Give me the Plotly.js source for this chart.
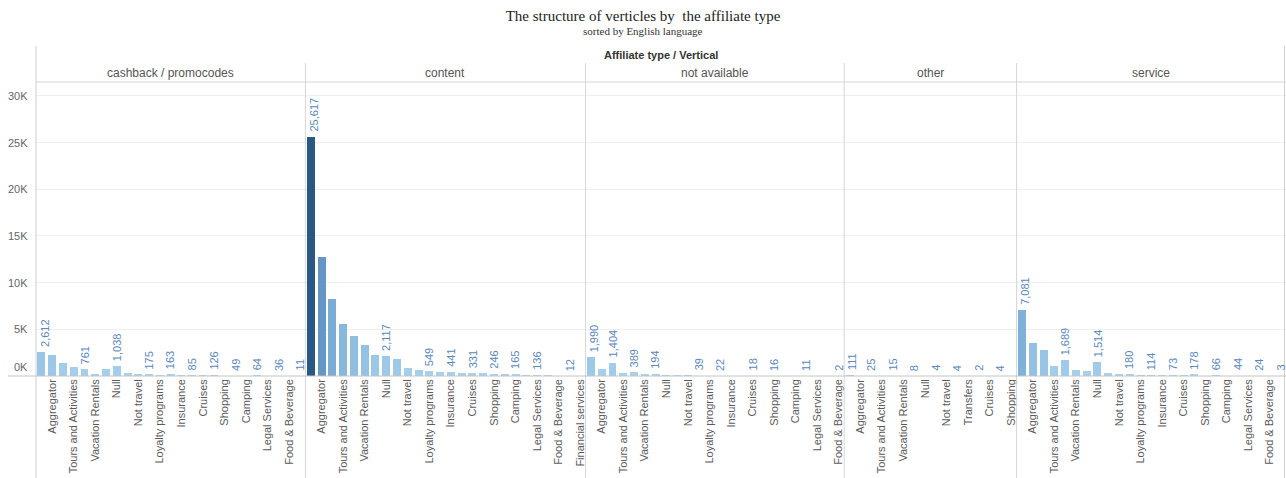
<!DOCTYPE html>
<html>
<head>
<meta charset="utf-8">
<script src="https://cdn.plot.ly/plotly-3.0.1.min.js"></script>
<style>
  html, body { margin: 0; padding: 0; background: #fff; }
  #chart { width: 1286px; height: 478px; }
</style>
</head>
<body>
<div id="chart"></div>
<script>
// ---- data -------------------------------------------------------------
const affiliateTypes = ['cashback / promocodes', 'content', 'not available', 'other', 'service'];

// Vertical names under each pane ('' = header suppressed for that bar)
const cashbackVerticals = ['', 'Aggregator', '', 'Tours and Activities', '', 'Vacation Rentals', '', 'Null', '', 'Not travel', '', 'Loyalty programs', '', 'Insurance', '', 'Cruises', '', 'Shopping', '', 'Camping', '', 'Legal Services', '', 'Food & Beverage', ''];
const contentVerticals = ['', 'Aggregator', '', 'Tours and Activities', '', 'Vacation Rentals', '', 'Null', '', 'Not travel', '', 'Loyalty programs', '', 'Insurance', '', 'Cruises', '', 'Shopping', '', 'Camping', '', 'Legal Services', '', 'Food & Beverage', '', 'Financial services'];
const notAvailableVerticals = ['', 'Aggregator', '', 'Tours and Activities', '', 'Vacation Rentals', '', 'Null', '', 'Not travel', '', 'Loyalty programs', '', 'Insurance', '', 'Cruises', '', 'Shopping', '', 'Camping', '', 'Legal Services', '', 'Food & Beverage'];
const otherVerticals = ['', 'Aggregator', '', 'Tours and Activities', '', 'Vacation Rentals', '', 'Null', '', 'Not travel', '', 'Transfers', '', 'Cruises', '', 'Shopping'];
const serviceVerticals = ['', 'Aggregator', '', 'Tours and Activities', '', 'Vacation Rentals', '', 'Null', '', 'Not travel', '', 'Loyalty programs', '', 'Insurance', '', 'Cruises', '', 'Shopping', '', 'Camping', '', 'Legal Services', '', 'Food & Beverage', ''];

// Number of affiliates per vertical
const cashbackCounts = [2612, 2290, 1390, 930, 761, 250, 720, 1038, 330, 230, 175, 130, 163, 70, 85, 60, 126, 50, 49, 20, 64, 25, 36, 15, 11];
const contentCounts = [25617, 12780, 8210, 5600, 4250, 3360, 2210, 2117, 1820, 890, 680, 549, 470, 441, 350, 331, 290, 246, 200, 165, 150, 136, 70, 30, 12, 4];
const notAvailableCounts = [1990, 800, 1404, 280, 389, 180, 194, 150, 90, 60, 39, 15, 22, 10, 8, 18, 6, 16, 5, 3, 11, 4, 2, 2];
const otherCounts = [111, 30, 25, 12, 15, 9, 8, 5, 4, 3, 4, 3, 2, 1, 4, 1];
const serviceCounts = [7081, 3570, 2790, 1040, 1689, 680, 570, 1514, 350, 170, 180, 120, 114, 80, 73, 70, 178, 40, 66, 25, 44, 30, 24, 15, 3];

// Bars whose value label is printed
const cashbackLabelled = [0, 4, 7, 10, 12, 14, 16, 18, 20, 22, 24];
const contentLabelled = [0, 7, 11, 13, 15, 17, 19, 21, 24];
const notAvailableLabelled = [0, 2, 4, 6, 10, 12, 15, 17, 20, 23];
const otherLabelled = [0, 2, 4, 6, 8, 10, 12, 14];
const serviceLabelled = [0, 4, 7, 10, 12, 14, 16, 18, 20, 22, 24];

const yTickValues = [0, 5000, 10000, 15000, 20000, 25000, 30000];
const yTickLabels = ['0K', '5K', '10K', '15K', '20K', '25K', '30K'];

// ---- layout helpers ---------------------------------------------------
const W = 1286, H = 478;
const M = { l: 36, r: 0, t: 82, b: 102 };
const plotW = W - M.l - M.r, plotH = H - M.t - M.b;
const px = x => (x - M.l) / plotW;          // pixel -> paper x
const py = y => (H - M.b - y) / plotH;      // pixel -> paper y
const PX_PER_5K = 46.7;                     // value-axis scale

const SANS = 'Liberation Sans, Arial, sans-serif';
const SERIF = 'Liberation Serif, Times New Roman, serif';
const LABEL_BLUE = '#5b88bb';

const panes = [
  { verticals: cashbackVerticals, counts: cashbackCounts, labelled: cashbackLabelled },
  { verticals: contentVerticals, counts: contentCounts, labelled: contentLabelled },
  { verticals: notAvailableVerticals, counts: notAvailableCounts, labelled: notAvailableLabelled },
  { verticals: otherVerticals, counts: otherCounts, labelled: otherLabelled },
  { verticals: serviceVerticals, counts: serviceCounts, labelled: serviceLabelled }
];

const totalBars = panes.reduce((s, p) => s + p.counts.length, 0);
const maxCount = Math.max(...panes.flatMap(p => p.counts));

const blues = [
  [0, '#a9d3ee'], [0.1, '#9ac6e6'], [0.25, '#83b4db'],
  [0.5, '#6596c5'], [0.75, '#4676a7'], [1, '#2a5783']
];

const traces = [];
const layout = {
  width: W, height: H,
  margin: M,
  paper_bgcolor: '#fff', plot_bgcolor: '#fff',
  showlegend: false,
  bargap: 0,
  title: {
    text: 'The structure of verticles by&nbsp; the affiliate type',
    font: { family: SERIF, size: 15, color: '#222' },
    xref: 'container', x: 0.5, xanchor: 'center',
    yref: 'container', y: 1 - 16 / H, yanchor: 'middle'
  },
  yaxis: {
    domain: [0, 1],
    range: [0, plotH / PX_PER_5K * 5000],
    tickvals: yTickValues,
    showticklabels: false,
    showgrid: true, gridcolor: '#efefef', gridwidth: 1,
    zeroline: false, showline: false, ticks: '',
    fixedrange: true
  },
  annotations: [],
  shapes: []
};

let start = 0;
panes.forEach((p, k) => {
  const n = p.counts.length;
  const axName = k === 0 ? 'x' : 'x' + (k + 1);
  const layoutKey = k === 0 ? 'xaxis' : 'xaxis' + (k + 1);
  const idx = p.counts.map((_, i) => i);
  const d0 = start / totalBars, d1 = (start + n) / totalBars;

  traces.push({
    type: 'bar',
    x: idx,
    y: p.counts,
    xaxis: axName,
    yaxis: 'y',
    width: 0.74,
    marker: { color: p.counts, colorscale: blues, cmin: 0, cmax: maxCount, line: { width: 0 } },
    hoverinfo: 'skip'
  });

  // value labels above the bars; the first one is nudged off the pane edge
  p.labelled.forEach(i => {
    layout.annotations.push({
      xref: axName, yref: 'y',
      x: i, y: p.counts[i],
      xanchor: 'center', yanchor: 'bottom',
      xshift: i === 0 ? 3 : 0, yshift: 3,
      textangle: -90,
      text: p.counts[i].toLocaleString('en-US'),
      showarrow: false,
      font: { family: SANS, size: 11, color: LABEL_BLUE }
    });
  });

  const tickIdx = idx.filter(i => p.verticals[i] !== '');
  layout[layoutKey] = {
    domain: [d0, d1],
    anchor: 'y',
    range: [-0.5, n - 0.5],
    tickmode: 'array',
    tickvals: tickIdx,
    ticktext: tickIdx.map(i => p.verticals[i]),
    tickangle: -90,
    tickfont: { family: SANS, size: 11, color: '#5a5a5a' },
    ticks: '', showgrid: false, zeroline: false, showline: false,
    fixedrange: true
  };

  // pane header
  layout.annotations.push({
    xref: 'paper', yref: 'paper',
    x: (d0 + d1) / 2, y: py(73),
    xanchor: 'center', yanchor: 'middle',
    text: affiliateTypes[k], showarrow: false,
    font: { family: SANS, size: 12, color: '#555' }
  });

  // pane divider
  if (k > 0) {
    layout.shapes.push({
      type: 'line', xref: 'paper', yref: 'paper',
      x0: d0, x1: d0, y0: py(63), y1: py(H),
      line: { color: '#d6d6d6', width: 1 }
    });
  }
  start += n;
});

// outer borders of the header block, header underline and baseline
layout.shapes.push(
  { type: 'line', xref: 'paper', yref: 'paper', x0: 0, x1: 0, y0: py(46), y1: py(H), line: { color: '#d0d0d0', width: 1 } },
  { type: 'line', xref: 'paper', yref: 'paper', x0: px(W - 1.5), x1: px(W - 1.5), y0: py(46), y1: py(H), line: { color: '#d0d0d0', width: 1 } },
  { type: 'line', xref: 'paper', yref: 'paper', x0: 0, x1: 1, y0: 1, y1: 1, line: { color: '#d6d6d6', width: 1 } },
  { type: 'line', xref: 'paper', yref: 'paper', x0: px(8), x1: 1, y0: 0, y1: 0, line: { color: '#c4c4c4', width: 1 } }
);

// value axis labels
yTickValues.forEach((v, i) => {
  layout.annotations.push({
    xref: 'paper', yref: 'y',
    x: 0, y: v, xshift: -6, yshift: v === 0 ? 9 : 0,
    xanchor: 'right', yanchor: 'middle',
    text: yTickLabels[i], showarrow: false,
    font: { family: SANS, size: 11, color: '#666' }
  });
});

// column header and subtitle
layout.annotations.push(
  {
    xref: 'paper', yref: 'paper', x: 0.5, y: py(55),
    xanchor: 'center', yanchor: 'middle',
    text: '<b>Affiliate type / Vertical</b>', showarrow: false,
    font: { family: SANS, size: 11, color: '#333' }
  },
  {
    xref: 'paper', yref: 'paper', x: px(W / 2), y: py(31),
    xanchor: 'center', yanchor: 'middle',
    text: 'sorted by English language', showarrow: false,
    font: { family: SERIF, size: 11, color: '#333' }
  }
);

Plotly.newPlot('chart', traces, layout, { staticPlot: true, displayModeBar: false });
</script>
</body>
</html>
